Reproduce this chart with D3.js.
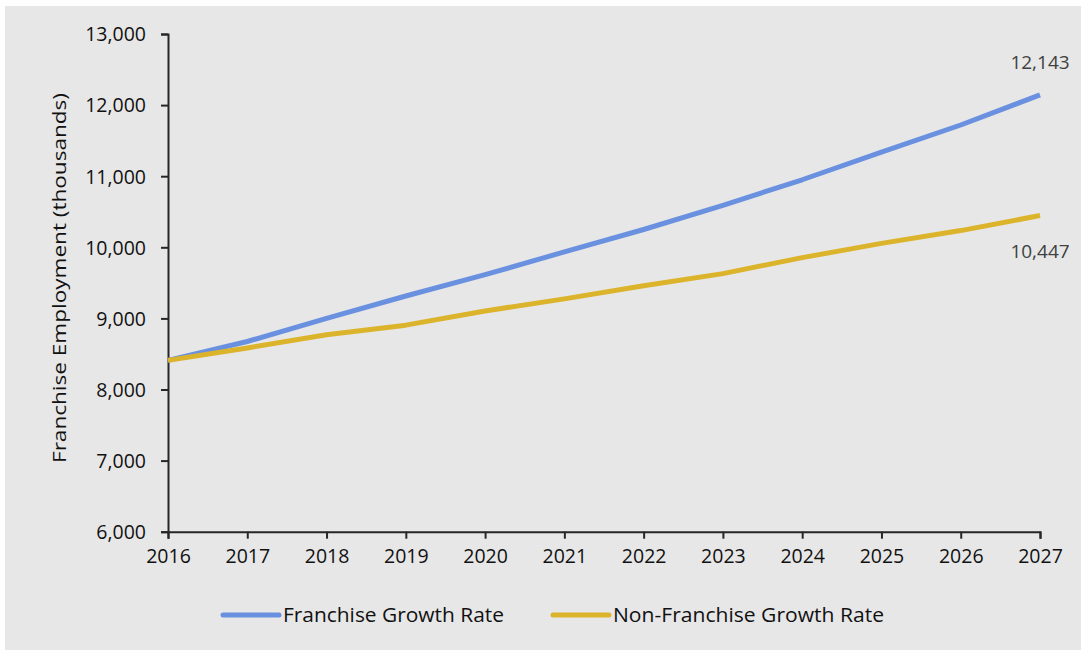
<!DOCTYPE html>
<html>
<head>
<meta charset="utf-8">
<script src="https://cdn.jsdelivr.net/npm/d3@7"></script>
<style>
  body { margin: 0; background: #fff; }
  text { font-family: "Open Sans", sans-serif; }
</style>
</head>
<body>
<svg id="chart" width="1081" height="650"></svg>
<script>
// data (thousands)
const years = [2016, 2017, 2018, 2019, 2020, 2021, 2022, 2023, 2024, 2025, 2026, 2027];
const franchise = [8410, 8675, 9000, 9315, 9615, 9935, 10250, 10590, 10950, 11340, 11720, 12143];
const nonFranchise = [8410, 8585, 8770, 8905, 9105, 9275, 9460, 9630, 9855, 10055, 10235, 10447];
const yTicks = [6000, 7000, 8000, 9000, 10000, 11000, 12000, 13000];
const seriesNames = ["Franchise Growth Rate", "Non-Franchise Growth Rate"];
const seriesColors = ["#6a90e0", "#dcb42c"];

const svg = d3.select("#chart");

// grey panel
svg.append("rect").attr("x", 5).attr("y", 6).attr("width", 1076).attr("height", 644).attr("fill", "#e7e7e7");

const x = d3.scaleLinear().domain([2016, 2027]).range([168, 1040]);
const y = d3.scaleLinear().domain([6000, 13000]).range([531.7, 34]);
const fmt = d3.format(",");

// y axis
const yAxis = svg.append("g")
  .attr("transform", "translate(168,0)")
  .call(d3.axisLeft(y).tickValues(yTicks).tickFormat(fmt).tickSize(7).tickPadding(15));
yAxis.selectAll("text").style("font-size", "19.5px").attr("fill", "#111").attr("dy", "0.35em");

// x axis
const xAxis = svg.append("g")
  .attr("transform", "translate(0,531.7)")
  .call(d3.axisBottom(x).tickValues(years).tickFormat(d3.format("d")).tickSize(7).tickPadding(10));
xAxis.selectAll("text").style("font-size", "19.5px").attr("fill", "#111");

svg.selectAll(".domain").attr("stroke", "#262626").attr("stroke-width", 2);
svg.selectAll(".tick line").attr("stroke", "#262626").attr("stroke-width", 2);

// axis title
svg.append("text")
  .attr("transform", "translate(66,278) rotate(-90)")
  .attr("text-anchor", "middle")
  .attr("textLength", 370)
  .attr("lengthAdjust", "spacingAndGlyphs")
  .style("font-size", "19px")
  .attr("fill", "#111")
  .text("Franchise Employment (thousands)");

// lines
const line = d3.line().x((d, i) => x(years[i])).y(d => y(d));
[franchise, nonFranchise].forEach((vals, k) => {
  svg.append("path")
    .datum(vals)
    .attr("fill", "none")
    .attr("stroke", seriesColors[k])
    .attr("stroke-width", 5)
    .attr("stroke-linejoin", "round")
    .attr("d", line);
});

// end labels
svg.append("text")
  .attr("x", x(2027)).attr("y", y(franchise[11]) - 26)
  .attr("text-anchor", "middle").style("font-size", "19px").attr("fill", "#404040")
  .text(fmt(franchise[11]));
svg.append("text")
  .attr("x", x(2027)).attr("y", y(nonFranchise[11]) + 42)
  .attr("text-anchor", "middle").style("font-size", "19px").attr("fill", "#404040")
  .text(fmt(nonFranchise[11]));

// legend
const legendX = [223, 553];
const legendW = [221, 271];
seriesNames.forEach((name, k) => {
  svg.append("line")
    .attr("x1", legendX[k]).attr("x2", legendX[k] + 56)
    .attr("y1", 615).attr("y2", 615)
    .attr("stroke", seriesColors[k]).attr("stroke-width", 5).attr("stroke-linecap", "round");
  svg.append("text")
    .attr("x", legendX[k] + 60).attr("y", 622)
    .attr("textLength", legendW[k])
    .attr("lengthAdjust", "spacingAndGlyphs")
    .style("font-size", "20px").attr("fill", "#111")
    .text(name);
});
</script>
</body>
</html>
